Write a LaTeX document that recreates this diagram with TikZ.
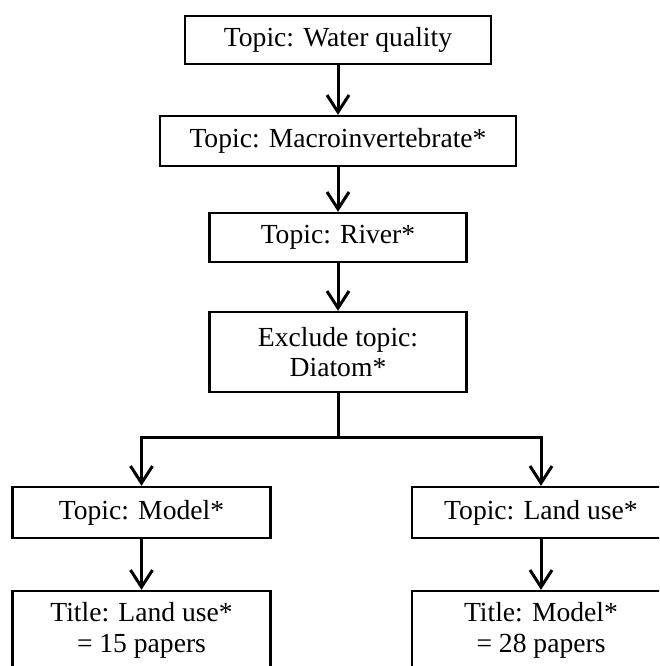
\documentclass[tikz,border=0pt]{standalone}
\usepackage{fontspec}
\setmainfont{Liberation Serif}
\usetikzlibrary{arrows.meta}
\begin{document}
\begin{tikzpicture}[x=1pt,y=-1pt,
  box/.style={draw, line width=2.4pt, rectangle, align=center, inner sep=0pt,
    font=\fontsize{27.6}{30.5}\selectfont},
  arr/.style={line width=3pt, -{Straight Barb[length=17pt,width=22pt]}},
  link/.style={line width=3pt}]
\useasboundingbox (0,0) rectangle (659,666);
\clip (0,0) rectangle (659,666);
\node[box, minimum width=306pt, minimum height=48pt] (b1) at (338,40) {Topic: Water quality};
\node[box, minimum width=356pt, minimum height=50pt] (b2) at (338,141) {Topic: Macroinvertebrate*};
\node[box, minimum width=257pt, minimum height=49pt] (b3) at (338,237.5) {Topic: River*};
\node[box, minimum width=257pt, minimum height=80pt] (b4) at (338,352) {Exclude topic:\\Diatom*};
\node[box, minimum width=258pt, minimum height=51pt] (b5) at (141.5,512.5) {Topic: Model*};
\node[box, minimum width=258pt, minimum height=51pt] (b6) at (541,512.5) {Topic: Land use*};
\node[box, minimum width=258pt, minimum height=79pt] (b7) at (141.5,630.5) {Title: Land use*\\= 15 papers};
\node[box, minimum width=258pt, minimum height=79pt] (b8) at (541,630.5) {Title: Model*\\= 28 papers};
\coordinate (j) at (338,437);
\coordinate (jl) at (141.5,437);
\coordinate (jr) at (541,437);
\draw[arr] (b1) -- (b2);
\draw[arr] (b2) -- (b3);
\draw[arr] (b3) -- (b4);
\draw[link] (b4.south) -- (j);
\draw[link, line cap=rect] (jl) -- (jr);
\draw[arr] (jl) -- (b5.north);
\draw[arr] (jr) -- (b6.north);
\draw[arr] (b5) -- (b7);
\draw[arr] (b6) -- (b8);
\end{tikzpicture}
\end{document}
